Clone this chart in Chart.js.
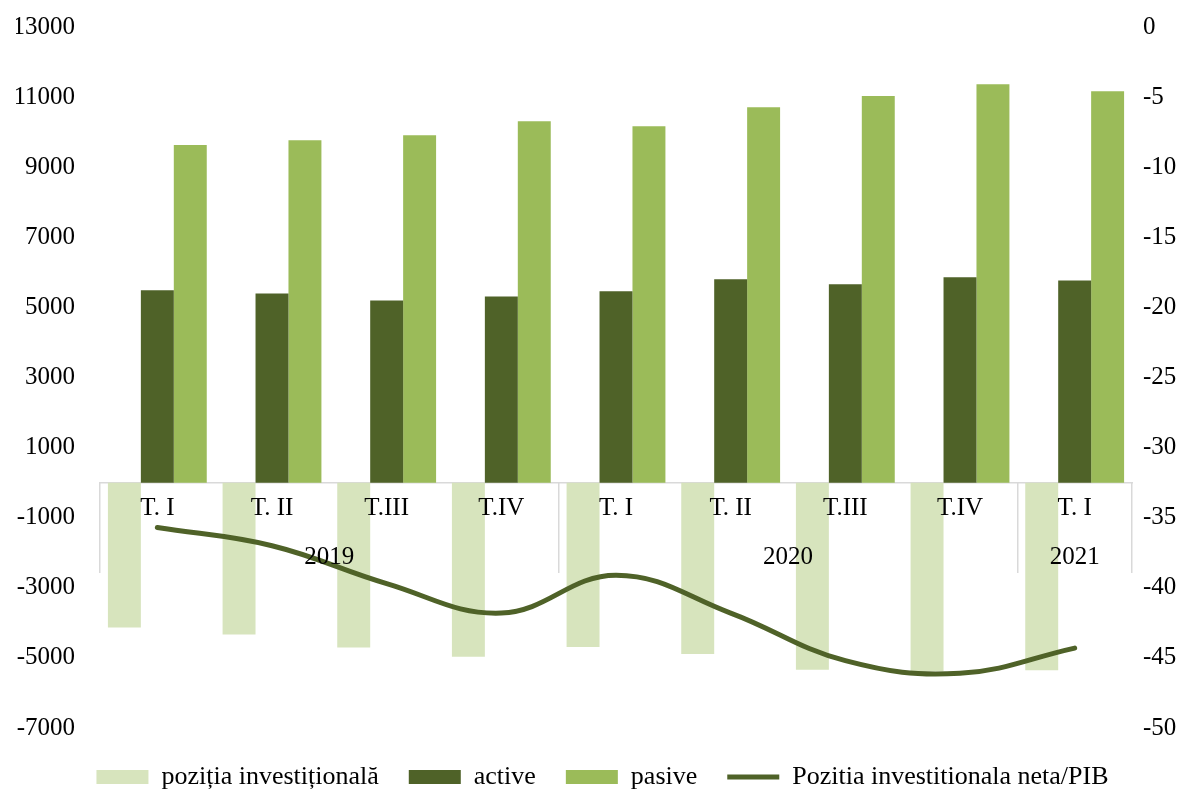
<!DOCTYPE html>
<html>
<head>
<meta charset="utf-8">
<script src="https://cdn.jsdelivr.net/npm/chart.js@4/dist/chart.umd.min.js"></script>
<style>
  html, body { margin: 0; padding: 0; background: #fff; }
  #wrap { width: 1189px; height: 789px; position: relative; }
</style>
</head>
<body>
<div id="wrap"><canvas id="c" width="1189" height="789"></canvas></div>
<script>
// ---- data ----
const quarterLabels = ['T. I', 'T. II', 'T.III', 'T.IV', 'T. I', 'T. II', 'T.III', 'T.IV', 'T. I'];
const yearLabels = ['2019', '2020', '2021'];
const yearSpans = [4, 4, 1];
const pozitiaInvestitionala = [-4130, -4330, -4700, -4970, -4690, -4890, -5340, -5380, -5350];
const active = [5490, 5400, 5200, 5310, 5460, 5800, 5660, 5860, 5770];
const pasive = [9630, 9770, 9910, 10310, 10170, 10710, 11030, 11370, 11170];
const pipPib = [-35.7, -37.0, -39.7, -41.8, -39.1, -41.8, -45.2, -46.1, -44.3];
const leftTicks = { min: -7000, max: 13000, step: 2000 };
const rightTicks = { min: -50, max: 0, step: 5 };

// year axis ticks built from spans: boundaries and centres
const yearBoundaries = [];
const yearCentres = [];
(function () {
  let start = 0;
  yearBoundaries.push(-0.5);
  yearSpans.forEach(n => {
    yearCentres.push(start + (n - 1) / 2);
    start += n;
    yearBoundaries.push(start - 0.5);
  });
})();

Chart.defaults.font.family = "'Liberation Serif', serif";
Chart.defaults.font.size = 25;
Chart.defaults.color = '#000';

const AXIS_GRAY = '#D9D9D9';
const plainNum = (v) => String(v);

new Chart(document.getElementById('c'), {
  data: {
    labels: quarterLabels,
    datasets: [
      {
        type: 'bar', label: 'poziția investițională', data: pozitiaInvestitionala,
        backgroundColor: '#D7E4BD', borderWidth: 0, pointStyle: 'rect', order: 1,
        xAxisID: 'x', yAxisID: 'y'
      },
      {
        type: 'bar', label: 'active', data: active,
        backgroundColor: '#4F6228', borderWidth: 0, pointStyle: 'rect', order: 1,
        xAxisID: 'x', yAxisID: 'y'
      },
      {
        type: 'bar', label: 'pasive', data: pasive,
        backgroundColor: '#9BBB59', borderWidth: 0, pointStyle: 'rect', order: 1,
        xAxisID: 'x', yAxisID: 'y'
      },
      {
        type: 'line', label: 'Pozitia investitionala neta/PIB', data: pipPib,
        borderColor: '#4F6228', backgroundColor: '#4F6228', borderWidth: 5,
        borderCapStyle: 'round', pointStyle: 'line', pointRadius: 0, pointHoverRadius: 0,
        tension: 0.4, fill: false, order: 0,
        xAxisID: 'x', yAxisID: 'y1'
      }
    ]
  },
  options: {
    responsive: false,
    animation: false,
    devicePixelRatio: 1,
    layout: { padding: { top: 27, left: 16, right: 0, bottom: -11 } },
    datasets: { bar: { categoryPercentage: 0.862, barPercentage: 1.0 } },
    scales: {
      x: {
        type: 'category',
        position: { y: 0 },
        offset: true,
        grid: { display: false, drawTicks: false },
        border: { display: true, color: AXIS_GRAY, width: 1.5 },
        ticks: { z: 1, padding: 11, maxRotation: 0, autoSkip: false, font: { size: 25 } }
      },
      xYear: {
        type: 'linear',
        axis: 'x',
        position: { y: 0 },
        min: -0.5,
        max: 8.5,
        afterBuildTicks: (scale) => {
          const vals = yearBoundaries.concat(yearCentres).sort((a, b) => a - b);
          scale.ticks = vals.map(v => ({ value: v }));
        },
        grid: {
          display: true, drawOnChartArea: false, drawTicks: true, tickLength: 90,
          lineWidth: 1.5,
          color: (c) => (c.tick && yearBoundaries.includes(c.tick.value)) ? AXIS_GRAY : 'rgba(0,0,0,0)'
        },
        border: { display: false },
        ticks: {
          z: 1, autoSkip: false, maxRotation: 0, padding: -30,
          callback: (v) => {
            const i = yearCentres.indexOf(v);
            return i >= 0 ? yearLabels[i] : '';
          }
        }
      },
      y: {
        type: 'linear', position: 'left',
        min: leftTicks.min, max: leftTicks.max,
        grid: { display: false, drawTicks: false },
        border: { display: false },
        ticks: { stepSize: leftTicks.step, padding: 25, callback: plainNum },
        afterFit: (s) => { s.width = 84; s.paddingTop = 0; s.paddingBottom = 0; }
      },
      y1: {
        type: 'linear', position: 'right',
        min: rightTicks.min, max: rightTicks.max,
        grid: { display: false, drawTicks: false },
        border: { display: false },
        ticks: { stepSize: rightTicks.step, padding: 11, callback: plainNum },
        afterFit: (s) => { s.width = 57; s.paddingTop = 0; s.paddingBottom = 0; }
      }
    },
    plugins: {
      tooltip: { enabled: false },
      title: { display: false },
      legend: {
        display: true,
        position: 'bottom',
        title: { display: true, text: ' ', font: { size: 1, lineHeight: 1 }, padding: { top: 5, bottom: 0 } },
        labels: {
          usePointStyle: true,
          pointStyleWidth: 52,
          boxWidth: 52,
          boxHeight: 14,
          padding: 30,
          font: { size: 26 },
          color: '#000',
          sort: (a, b) => a.datasetIndex - b.datasetIndex
        }
      }
    }
  }
});
</script>
</body>
</html>
